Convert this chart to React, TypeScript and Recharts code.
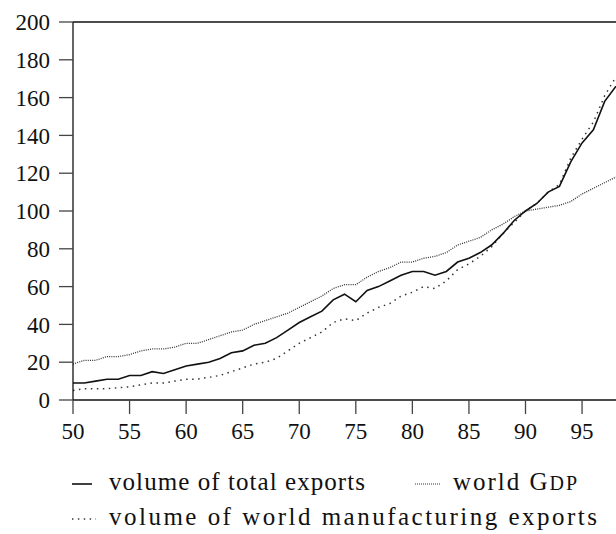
import React from "react";
import { LineChart, Line, XAxis, YAxis, ReferenceLine } from "recharts";

const years = [
  50, 51, 52, 53, 54, 55, 56, 57, 58, 59, 60, 61, 62, 63, 64, 65, 66, 67, 68, 69, 70, 71, 72, 73, 74,
  75, 76, 77, 78, 79, 80, 81, 82, 83, 84, 85, 86, 87, 88, 89, 90, 91, 92, 93, 94, 95, 96, 97, 98,
];

const totalExports = [
  9, 9, 10, 11, 11, 13, 13, 15, 14, 16, 18, 19, 20, 22, 25, 26, 29, 30, 33, 37, 41, 44, 47, 53, 56,
  52, 58, 60, 63, 66, 68, 68, 66, 68, 73, 75, 78, 82, 88, 95, 100, 104, 110, 113, 126, 136, 143, 158, 166,
];

const worldGdp = [
  19, 21, 21, 23, 23, 24, 26, 27, 27, 28, 30, 30, 32, 34, 36, 37, 40, 42, 44, 46, 49, 52, 55, 59, 61,
  61, 65, 68, 70, 73, 73, 75, 76, 78, 82, 84, 86, 90, 93, 97, 100, 101, 102, 103, 105, 109, 112, 115, 118,
];

const manufExports = [
  5, 6, 6, 6, 6.5, 7, 8, 9, 9, 10, 11, 11, 12, 13, 15, 17, 19, 20, 22, 26, 30, 33, 36, 41, 43,
  42, 46, 49, 51, 55, 57, 60, 59, 63, 69, 72, 76, 81, 88, 94, 100, 104, 110, 114, 128, 138, 147, 161, 171,
];

const xTicks = [50, 55, 60, 65, 70, 75, 80, 85, 90, 95];
const yTicks = [0, 20, 40, 60, 80, 100, 120, 140, 160, 180, 200];

const data = years.map((y, i) => ({
  year: y,
  total: totalExports[i],
  gdp: worldGdp[i],
  manuf: manufExports[i],
}));

const FONT = "'Liberation Serif', 'Times New Roman', serif";

function LegendBox() {
  return (
    <svg
      width={616}
      height={94}
      style={{ position: "absolute", left: 0, top: 440, fontFamily: FONT }}
    >
      <line x1={72} x2={92} y1={44} y2={44} stroke="#111" strokeWidth={1.6} />
      <text x={109} y={50} fontSize={25} textLength={256} lengthAdjust="spacing" fill="#111">
        volume of total exports
      </text>
      <line x1={415} x2={441} y1={44} y2={44} stroke="#333" strokeWidth={1.2} strokeDasharray="1 1" />
      <text x={453} y={50} fontSize={25} textLength={124} lengthAdjust="spacing" fill="#111">
        world G<tspan fontSize={20}>DP</tspan>
      </text>
      <line x1={72} x2={96} y1={79} y2={79} stroke="#333" strokeWidth={1.4} strokeDasharray="1.4 4.5" />
      <text x={109} y={85} fontSize={25} textLength={488} lengthAdjust="spacing" fill="#111">
        volume of world manufacturing exports
      </text>
    </svg>
  );
}

export default function App() {
  return (
    <div style={{ position: "absolute", left: 0, top: 0, width: 616, height: 534, background: "#fff" }}>
      <LineChart
        width={616}
        height={534}
        data={data}
        margin={{ top: 22, right: 0, bottom: 94, left: 0 }}
        style={{ fontFamily: FONT }}
      >
        <XAxis
          dataKey="year"
          type="number"
          domain={[50, 98]}
          ticks={xTicks}
          allowDataOverflow
          height={40}
          tickSize={14}
          tickMargin={9}
          tick={{ fill: "#111", fontSize: 23 }}
          axisLine={{ stroke: "#111", strokeWidth: 1.3 }}
          tickLine={{ stroke: "#444", strokeWidth: 1.3 }}
        />
        <YAxis
          type="number"
          domain={[0, 200]}
          ticks={yTicks}
          width={73}
          tickSize={14}
          tickMargin={9}
          tick={{ fill: "#111", fontSize: 23 }}
          axisLine={{ stroke: "#111", strokeWidth: 1.3 }}
          tickLine={{ stroke: "#444", strokeWidth: 1.3 }}
        />
        <ReferenceLine y={200} stroke="#111" strokeWidth={1.3} />
        <Line
          dataKey="gdp"
          stroke="#333"
          strokeWidth={1.3}
          strokeDasharray="1 1.2"
          dot={false}
          type="linear"
          isAnimationActive={false}
        />
        <Line
          dataKey="manuf"
          stroke="#333"
          strokeWidth={1.5}
          strokeDasharray="1.5 4.5"
          dot={false}
          type="linear"
          isAnimationActive={false}
        />
        <Line
          dataKey="total"
          stroke="#111"
          strokeWidth={1.6}
          dot={false}
          type="linear"
          isAnimationActive={false}
        />
      </LineChart>
      <LegendBox />
    </div>
  );
}
